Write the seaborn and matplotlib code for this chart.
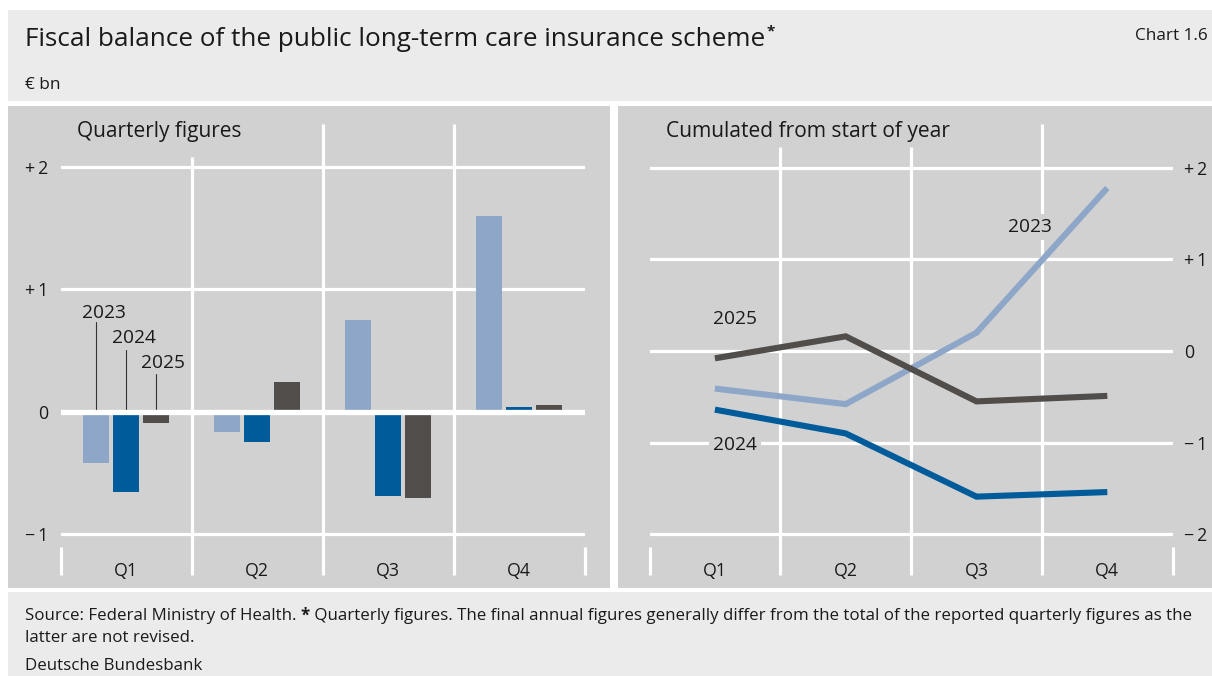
import matplotlib
matplotlib.use("Agg")
import matplotlib.pyplot as plt
import seaborn as sns
import pandas as pd
from matplotlib.patches import Rectangle

# ---- data (EUR bn) ----
quarters = ["Q1", "Q2", "Q3", "Q4"]
years = ["2023", "2024", "2025"]
quarterly_2023 = [-0.42, -0.17, 0.75, 1.60]
quarterly_2024 = [-0.66, -0.25, -0.69, 0.04]
quarterly_2025 = [-0.09, 0.24, -0.71, 0.05]
cumulated_2023 = [-0.41, -0.58, 0.20, 1.78]
cumulated_2024 = [-0.64, -0.90, -1.59, -1.54]
cumulated_2025 = [-0.08, 0.16, -0.55, -0.49]
left_ticks = [-1, 0, 1, 2]
left_tick_labels = ["\u2212\u20091", "0", "+\u20091", "+\u20092"]
right_ticks = [-2, -1, 0, 1, 2]
right_tick_labels = ["\u2212\u20092", "\u2212\u20091", "0", "+\u20091", "+\u20092"]

palette = {"2023": "#8ea7c8", "2024": "#005b9a", "2025": "#514d4a"}
PANEL = "#d1d1d1"
FRAME = "#ebebeb"
TEXT = "#1a1a1a"

quarterly = pd.DataFrame({
    "quarter": quarters * 3,
    "year": [y for y in years for _ in quarters],
    "value": quarterly_2023 + quarterly_2024 + quarterly_2025,
})
cumulated = pd.DataFrame({
    "quarter": quarters * 3,
    "year": [y for y in years for _ in quarters],
    "value": cumulated_2023 + cumulated_2024 + cumulated_2025,
})

sns.set_theme(style="white")
plt.rcParams["font.family"] = ["Open Sans", "DejaVu Sans"]
plt.rcParams["axes.unicode_minus"] = False

W, H = 1212, 676
fig = plt.figure(figsize=(W / 100, H / 100), dpi=100)
fig.patch.set_facecolor("white")


def fbox(x0, y0, x1, y1):
    """pixel box (top-left origin) -> figure fraction rect"""
    return [x0 / W, 1 - y1 / H, (x1 - x0) / W, (y1 - y0) / H]


def add_rect(x0, y0, x1, y1, color, z=-10):
    l, b, w, h = fbox(x0, y0, x1, y1)
    fig.patches.append(Rectangle((l, b), w, h, transform=fig.transFigure,
                                 facecolor=color, edgecolor="none", zorder=z))


# frame, white separators and the two grey panels
add_rect(8, 10, W, H, FRAME, -12)
add_rect(8, 101, W, 592, "white", -11)
add_rect(8, 106, 610, 588, PANEL)
add_rect(618, 106, W, 588, PANEL)

FOOT = 12.2

# header and footer texts
title = fig.text(25 / W, 1 - 40 / H, "Fiscal balance of the public long-term care insurance scheme",
                 fontsize=18.8, color=TEXT, va="center", ha="left")
fig.text(1208 / W, 1 - 36 / H, "Chart 1.6", fontsize=12.3, color=TEXT, va="center", ha="right")
fig.text(25 / W, 1 - 85 / H, "€ bn", fontsize=12.4, color=TEXT, va="center", ha="left")

foot_y = 616
t1 = fig.text(25 / W, 1 - foot_y / H, "Source: Federal Ministry of Health. ",
              fontsize=FOOT, color=TEXT, va="center", ha="left")
fig.canvas.draw()
r = fig.canvas.get_renderer()
bb = t1.get_window_extent(r)
t2 = fig.text(bb.x1 / W, 1 - foot_y / H, "*", fontsize=FOOT, fontweight="bold",
              color=TEXT, va="center", ha="left")
bb2 = t2.get_window_extent(r)
fig.text(bb2.x1 / W, 1 - foot_y / H,
         " Quarterly figures. The final annual figures generally differ from the total of the "
         "reported quarterly figures as the",
         fontsize=FOOT, color=TEXT, va="center", ha="left")
fig.text(25 / W, 1 - 638 / H, "latter are not revised.", fontsize=FOOT, color=TEXT,
         va="center", ha="left")
fig.text(25 / W, 1 - 666 / H, "Deutsche Bundesbank", fontsize=FOOT, color=TEXT,
         va="center", ha="left")

# ---- axes geometry ----
AX_TOP, AX_BOT = 124, 578
L_X0, L_X1 = 60.7, 584.7
R_X0, R_X1 = 649.5, 1172.7
L_ZERO, L_UNIT = 411.6, 122.3
R_ZERO, R_UNIT = 351.0, 91.6

axL = fig.add_axes(fbox(L_X0, AX_TOP, L_X1, AX_BOT))
axR = fig.add_axes(fbox(R_X0, AX_TOP, R_X1, AX_BOT))

for ax in (axL, axR):
    ax.set_facecolor("none")
    for s in ax.spines.values():
        s.set_visible(False)
    ax.set_xlim(-0.5, 3.5)

# ---- left: quarterly bars ----
sns.barplot(data=quarterly, x="quarter", y="value", hue="year", hue_order=years,
            palette=palette, width=0.69, gap=0.13, saturation=1, linewidth=0,
            legend=False, ax=axL, zorder=3)
axL.set_xlim(-0.5, 3.5)
axL.set_ylim((L_ZERO - AX_BOT) / L_UNIT, (L_ZERO - AX_TOP) / L_UNIT)
for v in left_ticks:
    if v == 0:
        continue
    axL.axhline(v, color="white", lw=2.3, zorder=1)
axL.axhline(0, color="white", lw=3.8, zorder=4)

# ---- right: cumulated lines ----
sns.lineplot(data=cumulated, x="quarter", y="value", hue="year", hue_order=years,
             palette=palette, linewidth=4.4, legend=False, ax=axR, sort=False, zorder=3)
for ln in axR.lines:
    ln.set_solid_capstyle("butt")
    ln.set_solid_joinstyle("miter")
axR.set_xlim(-0.5, 3.5)
axR.set_ylim((R_ZERO - AX_BOT) / R_UNIT, (R_ZERO - AX_TOP) / R_UNIT)
for v in right_ticks:
    axR.axhline(v, color="white", lw=2.3, zorder=1)


def frac(py):
    return (AX_BOT - py) / (AX_BOT - AX_TOP)


# vertical separators and bottom tick marks between quarters
for ax, first_top in ((axL, 157), (axR, 147)):
    xf = ax.get_xaxis_transform()
    for i, edge in enumerate([0.5, 1.5, 2.5]):
        top = first_top if (i == 0 or (ax is axR and i == 1)) else AX_TOP
        ax.plot([edge, edge], [frac(575), frac(top)], color="white", lw=2.3,
                transform=xf, zorder=1, solid_capstyle="butt")
    for edge in (-0.5, 3.5):
        ax.plot([edge, edge], [frac(575), frac(547)], color="white", lw=2.3,
                transform=xf, zorder=1, solid_capstyle="butt", clip_on=False)

# ticks
axL.set_yticks(left_ticks, left_tick_labels)
axR.set_yticks(right_ticks, right_tick_labels)
axR.yaxis.tick_right()
for ax in (axL, axR):
    ax.set_xticks(range(4), quarters)
    ax.tick_params(axis="x", length=0, pad=-11.5, labelsize=12.8, labelcolor=TEXT)
    ax.tick_params(axis="y", length=0, labelsize=12.8, labelcolor=TEXT)
    ax.set_xlabel("")
    ax.set_ylabel("")
axL.tick_params(axis="y", pad=9)
axR.tick_params(axis="y", pad=8)

# panel titles
fig.text(77 / W, 1 - 132 / H, "Quarterly figures", fontsize=15, color=TEXT,
         va="center", ha="left")
fig.text(666 / W, 1 - 132 / H, "Cumulated from start of year", fontsize=15.1, color=TEXT,
         va="center", ha="left")

# year labels with leader lines on the bar chart
offsets = [-0.23, 0.0, 0.23]
label_pos = [(104, 313, 322), (134, 338, 350), (163, 363, 374)]
for yr, off, (px, py, ly) in zip(years, offsets, label_pos):
    xd = -0.5 + (px - L_X0) / 131.0
    axL.text(xd, (L_ZERO - py) / L_UNIT, yr, fontsize=13.8, color=TEXT,
             ha="center", va="center", zorder=5)
    axL.plot([off, off], [0, (L_ZERO - ly) / L_UNIT], color="#333333", lw=0.8, zorder=2)

# labels on the line chart
line_labels = [("2023", 1030, 227), ("2025", 735, 319), ("2024", 735, 445)]
for yr, px, py in line_labels:
    xd = -0.5 + (px - R_X0) / 130.8
    axR.text(xd, (R_ZERO - py) / R_UNIT, yr, fontsize=13.8, color=TEXT,
             ha="center", va="center", zorder=5,
             bbox=dict(facecolor=PANEL, edgecolor="none", pad=3))

# title asterisk
bt = title.get_window_extent(r)
fig.text(bt.x1 / W + 0.001, 1 - 31 / H, "*", fontsize=11, fontweight="bold",
         color=TEXT, va="center", ha="left")

fig.savefig("out.png", dpi=100, facecolor=fig.get_facecolor())
